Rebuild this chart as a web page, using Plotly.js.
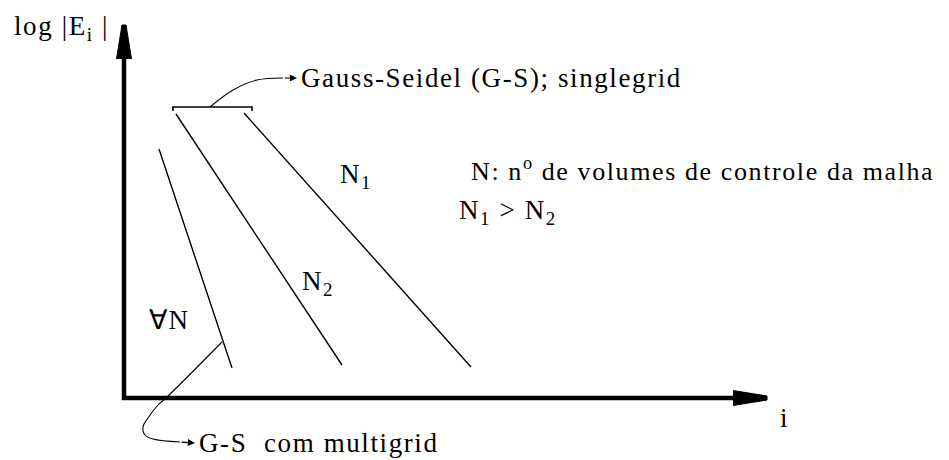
<!DOCTYPE html>
<html>
<head>
<meta charset="utf-8">
<script src="https://cdn.plot.ly/plotly-3.0.1.min.js"></script>
<style>
  html, body { margin: 0; padding: 0; background: #fff; }
  #chart { width: 949px; height: 460px; }
  .annotation-text { letter-spacing: 1.6px; }
</style>
</head>
<body>
<div id="chart"></div>
<script>
// ---- Schematic data (i = iteration axis, logE = log|E_i| axis) ----
const yAxis_i    = [0, 0];
const yAxis_logE = [-2, 373];
const xAxis_i    = [-2, 643];
const xAxis_logE = [0, 0];

const allN_i    = [35, 108];
const allN_logE = [249, 30];
const n2_i      = [52, 218];
const n2_logE   = [284, 33];
const n1_i      = [120, 347];
const n1_logE   = [285, 31];

const bracket_i    = [49, 49, 128, 128];
const bracket_logE = [287, 291, 291, 287];

const gsPath_i    = [86, 109, 133, 159];
const gsPath_logE = [291, 308, 318, 320];
const gsTip       = [173, 320];

const mgPath_i    = [98, 43, 34, 24, 19, 21, 29, 56];
const mgPath_logE = [56, 1, -7, -20, -29, -37, -41, -44];
const mgTip       = [71, -45];

const labelTexts = {
  yTitle: 'log |E<sub>i</sub> |',
  xTitle: 'i',
  gs: 'Gauss-Seidel (G-S); singlegrid',
  mg: 'G-S  com multigrid',
  n1: 'N<sub>1</sub>',
  n2: 'N<sub>2</sub>',
  allN: '\u2200N',
  legend1: 'N: n<sup>o</sup> de volumes de controle da malha',
  legend2: 'N<sub>1</sub> &gt; N<sub>2</sub>'
};
const labelPos = {
  yTitle: [-112, 370], xTitle: [654, -20], gs: [175, 320], mg: [73, -45],
  n1: [214, 222], n2: [176, 115], allN: [23, 78],
  legend1: [345, 229], legend2: [333, 186]
};
const labelSize = { legend1: 26 };

// ---- Build ----
const black = '#000';
function line(x, y, w, shape) {
  return { x: x, y: y, mode: 'lines', type: 'scatter', hoverinfo: 'skip',
           line: { color: black, width: w, shape: shape || 'linear', smoothing: 1 } };
}
// block arrow head (offsets are style constants)
const headLen = [34, 16, 0], headHalf = [7.5, 4.5, 2];
function head(tip, dir) {
  const xs = [], ys = [];
  const pts = [];
  for (let k = 0; k < 3; k++) pts.push([-headLen[k], headHalf[k]]);
  for (let k = 2; k >= 0; k--) pts.push([-headLen[k], -headHalf[k]]);
  pts.forEach(p => {
    if (dir === 'x') { xs.push(tip[0] + p[0]); ys.push(tip[1] + p[1]); }
    else { xs.push(tip[0] + p[1]); ys.push(tip[1] + p[0]); }
  });
  return { x: xs, y: ys, type: 'scatter', mode: 'lines', fill: 'toself',
           fillcolor: black, line: { color: black, width: 1 }, hoverinfo: 'skip' };
}

const traces = [
  line(yAxis_i, yAxis_logE, 4.5),
  line(xAxis_i, xAxis_logE, 4.5),
  head([xAxis_i[1], xAxis_logE[1]], 'x'),
  head([yAxis_i[1], yAxis_logE[1]], 'y'),
  line(allN_i, allN_logE, 1.4),
  line(n2_i, n2_logE, 1.4),
  line(n1_i, n1_logE, 1.4),
  line(bracket_i, bracket_logE, 1.6),
  line(gsPath_i, gsPath_logE, 1.1, 'spline'),
  line(mgPath_i, mgPath_logE, 1.1, 'spline')
];

const annotations = Object.keys(labelTexts).map(k => ({
  x: labelPos[k][0], y: labelPos[k][1], xref: 'x', yref: 'y',
  text: labelTexts[k], showarrow: false, xanchor: 'left', yanchor: 'middle',
  font: { family: 'Liberation Serif', size: labelSize[k] || 27, color: black }
}));
function arrowAnn(tail, tip) {
  return { x: tip[0], y: tip[1], ax: tail[0], ay: tail[1], axref: 'x', ayref: 'y',
           xref: 'x', yref: 'y', text: '', showarrow: true, arrowhead: 2,
           arrowsize: 1.3, arrowwidth: 1.1, arrowcolor: black, standoff: 0, startstandoff: 0 };
}
annotations.push(arrowAnn([gsPath_i[gsPath_i.length - 1], gsPath_logE[gsPath_logE.length - 1]], gsTip));
annotations.push(arrowAnn([mgPath_i[mgPath_i.length - 1], mgPath_logE[mgPath_logE.length - 1]], mgTip));

const layout = {
  width: 949, height: 460,
  margin: { l: 0, r: 0, t: 0, b: 0, pad: 0 },
  paper_bgcolor: '#fff', plot_bgcolor: '#fff',
  showlegend: false,
  xaxis: { range: [-124, 825], visible: false, fixedrange: true },
  yaxis: { range: [-62, 398], visible: false, fixedrange: true },
  annotations: annotations
};

Plotly.newPlot('chart', traces, layout, { staticPlot: true, displayModeBar: false });
</script>
</body>
</html>
